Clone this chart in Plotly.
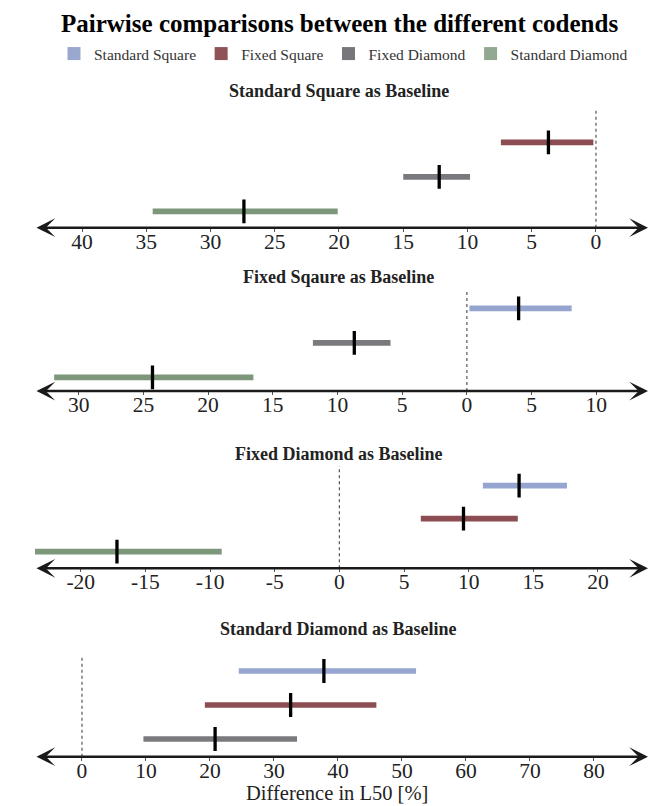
import plotly.graph_objects as go

# ---------------- data ----------------
codends = ["Standard Square", "Fixed Square", "Fixed Diamond", "Standard Diamond"]
panel_titles = ["Standard Square as Baseline", "Fixed Sqaure as Baseline",
                "Fixed Diamond as Baseline", "Standard Diamond as Baseline"]

p1_names = ["Fixed Square", "Fixed Diamond", "Standard Diamond"]
p1_low = [-7.4, -15.0, -34.5]
p1_high = [-0.2, -9.8, -20.1]
p1_mean = [-3.7, -12.2, -27.4]
p1_tickvals = [-40, -35, -30, -25, -20, -15, -10, -5, 0]
p1_ticktext = ["40", "35", "30", "25", "20", "15", "10", "5", "0"]

p2_names = ["Standard Square", "Fixed Diamond", "Standard Diamond"]
p2_low = [0.2, -11.9, -31.9]
p2_high = [8.1, -5.9, -16.5]
p2_mean = [4.0, -8.7, -24.3]
p2_tickvals = [-30, -25, -20, -15, -10, -5, 0, 5, 10]
p2_ticktext = ["30", "25", "20", "15", "10", "5", "0", "5", "10"]

p3_names = ["Standard Square", "Fixed Square", "Standard Diamond"]
p3_low = [11.1, 6.3, -25.3]
p3_high = [17.6, 13.8, -9.1]
p3_mean = [13.9, 9.6, -17.2]
p3_tickvals = [-20, -15, -10, -5, 0, 5, 10, 15, 20]
p3_ticktext = ["-20", "-15", "-10", "-5", "0", "5", "10", "15", "20"]

p4_names = ["Standard Square", "Fixed Square", "Fixed Diamond"]
p4_low = [24.5, 19.2, 9.6]
p4_high = [52.2, 46.0, 33.6]
p4_mean = [37.8, 32.6, 20.8]
p4_tickvals = [0, 10, 20, 30, 40, 50, 60, 70, 80]
p4_ticktext = ["0", "10", "20", "30", "40", "50", "60", "70", "80"]

x_title = "Difference in L50 [%]"
main_title = "Pairwise comparisons between the different codends"

# ---------------- style / layout ----------------
W, H = 649, 806
FONT = "Liberation Serif, Times New Roman, serif"
bar_colors = {"Standard Square": "#95a5cf", "Fixed Square": "#8b4c52",
              "Fixed Diamond": "#7a7a7e", "Standard Diamond": "#7d977a"}
legend_colors = {"Standard Square": "#9aa8d0", "Fixed Square": "#8e5257",
                 "Fixed Diamond": "#77777b", "Standard Diamond": "#93a890"}

X0_PX, X1_PX = 35, 648
# per panel: x range, rows px (top, bottom), axis px, dashed top px, title px
panels = [
    dict(names=p1_names, low=p1_low, high=p1_high, mean=p1_mean,
         tv=p1_tickvals, tt=p1_ticktext, xr=[-43.66, 4.05],
         rtop=142.3, rbot=211.3, axis=227.7, top=108.3, tpx=90.7),
    dict(names=p2_names, low=p2_low, high=p2_high, mean=p2_mean,
         tv=p2_tickvals, tt=p2_ticktext, xr=[-33.38, 14.0],
         rtop=308.3, rbot=377.3, axis=391.0, top=289.3, tpx=276.7),
    dict(names=p3_names, low=p3_low, high=p3_high, mean=p3_mean,
         tv=p3_tickvals, tt=p3_ticktext, xr=[-23.54, 23.87],
         rtop=485.7, rbot=551.7, axis=568.3, top=466.0, tpx=454.0),
    dict(names=p4_names, low=p4_low, high=p4_high, mean=p4_mean,
         tv=p4_tickvals, tt=p4_ticktext, xr=[-7.34, 88.44],
         rtop=671.0, rbot=739.0, axis=756.7, top=656.0, tpx=629.0),
]

fig = go.Figure()
annotations = []
shapes = []
layout_axes = {}

for i, p in enumerate(panels):
    k = "" if i == 0 else str(i + 1)
    xa, ya = "x" + k, "y" + k
    ppu = (p["rbot"] - p["rtop"]) / 2.0
    ylo = 1 - (p["axis"] - p["rbot"]) / ppu
    yhi = 3 + (p["rtop"] - p["top"]) / ppu
    rows = [3, 2, 1]
    for name, lo, hi, m, r in zip(p["names"], p["low"], p["high"], p["mean"], rows):
        fig.add_trace(go.Scatter(x=[lo, hi], y=[r, r], mode="lines",
                                 line=dict(color=bar_colors[name], width=5.7),
                                 xaxis=xa, yaxis=ya, showlegend=False,
                                 legendgroup=name, name=name, hoverinfo="skip"))
        fig.add_trace(go.Scatter(x=[m], y=[r], mode="markers",
                                 marker=dict(symbol="line-ns", size=17,
                                             line=dict(color="black", width=3.3)),
                                 xaxis=xa, yaxis=ya, showlegend=False,
                                 legendgroup=name, name=name))
    layout_axes["xaxis" + k] = dict(
        domain=[X0_PX / W, X1_PX / W], range=p["xr"], anchor=ya,
        showgrid=False, zeroline=False, showline=False,
        tickmode="array", tickvals=p["tv"], ticktext=p["tt"],
        ticks="outside", ticklen=3, tickwidth=1, tickcolor="#555",
        ticklabelstandoff=-9,
        tickfont=dict(family=FONT, size=21.5, color="#222"),
        fixedrange=True)
    layout_axes["yaxis" + k] = dict(
        domain=[1 - p["axis"] / H, 1 - p["top"] / H], range=[ylo, yhi],
        anchor=xa, visible=False, fixedrange=True)
    # dashed zero line
    shapes.append(dict(type="line", xref=xa, yref=ya, x0=0, x1=0, y0=ylo, y1=yhi,
                       line=dict(color="#555", width=1.2, dash="3px,3px")))
    # double-headed axis arrow
    annotations.append(dict(xref=xa, yref=ya, axref=xa, ayref=ya,
                            x=p["xr"][1], y=ylo, ax=p["xr"][0], ay=ylo,
                            text="", showarrow=True, arrowside="end+start",
                            arrowhead=3, startarrowhead=3,
                            arrowsize=1.25, startarrowsize=1.25,
                            arrowwidth=2.5, arrowcolor="#1a1a1a", standoff=0,
                            startstandoff=0))
    # panel title
    annotations.append(dict(xref="paper", yref="paper", x=338.8 / W, y=1 - p["tpx"] / H,
                            xanchor="center", yanchor="middle", showarrow=False,
                            text="<b>" + panel_titles[i] + "</b>",
                            font=dict(family=FONT, size=18, color="#222")))

# legend entries
for name in codends:
    fig.add_trace(go.Scatter(x=[None], y=[None], mode="markers", name=name,
                             legendgroup=name,
                             marker=dict(symbol="square", size=13,
                                         color=legend_colors[name])))

# main title
annotations.append(dict(xref="paper", yref="paper", x=339.4 / W, y=1 - 23.5 / H,
                        xanchor="center", yanchor="middle", showarrow=False,
                        text="<b>" + main_title + "</b>",
                        font=dict(family=FONT, size=25, color="black")))
# x-axis title
annotations.append(dict(xref="paper", yref="paper", x=337 / W, y=1 - 793 / H,
                        xanchor="center", yanchor="middle", showarrow=False,
                        text=x_title, font=dict(family=FONT, size=20.5, color="#222")))

fig.update_layout(
    width=W, height=H, margin=dict(l=0, r=0, t=0, b=0),
    paper_bgcolor="white", plot_bgcolor="white",
    showlegend=True,
    legend=dict(orientation="h", x=54 / W, y=1 - 54 / H, xanchor="left",
                yanchor="middle", font=dict(family=FONT, size=15.5, color="#333"),
                bgcolor="rgba(0,0,0,0)", itemclick=False, itemdoubleclick=False),
    annotations=annotations, shapes=shapes,
    **layout_axes,
)

fig.write_html("out.html", config={"displayModeBar": False},
               post_script="document.body.style.margin='0';document.body.style.overflow='hidden';")
